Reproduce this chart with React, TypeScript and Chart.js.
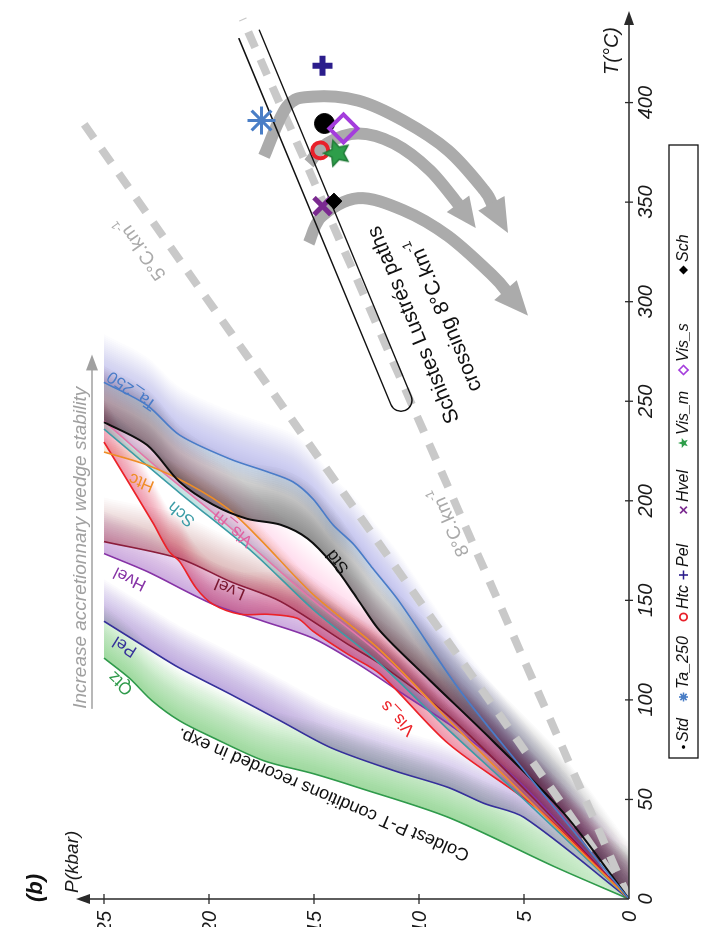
import React, { useEffect, useRef } from 'react';
import { Chart, registerables } from 'chart.js';

Chart.register(...registerables);

// ---------------- data ----------------
const tTicks = [0, 50, 100, 150, 200, 250, 300, 350, 400];
const pTicks = [0, 5, 10, 15, 20, 25];

// model P-T paths: P (kbar), T (°C)
const qtzP = [0, 3.5, 8.6, 12.9, 15.05, 17.4, 19.8, 21.4, 22.7, 23.8, 25];
const qtzT = [0, 16, 41, 56, 63, 69.5, 81, 89.5, 99.5, 111, 121];
const pelP = [0, 5, 6.9, 8.6, 11.2, 14.2, 16.6, 19, 21.4, 22.95, 25];
const pelT = [0, 41, 48, 56, 64.5, 76, 89.5, 103, 116, 126, 139.5];
const hvelP = [0, 4.4, 6.5, 8.6, 10.76, 12.9, 15.05, 17.4, 19.8, 22.95, 25];
const hvelT = [0, 50, 71, 88, 103, 118, 131, 139.5, 148, 164.5, 173.5];
const lvelP = [0, 4.5, 8.6, 11.85, 13.4, 16.6, 19, 21.4, 25];
const lvelT = [0, 50, 92, 118, 128, 149.5, 159.5, 171, 179.5];
const visSP = [0, 4.2, 8.6, 11.85, 13.4, 15.05, 15.8, 17.2, 18.5, 19.8, 20.6, 21.4, 21.9, 22.7, 25];
const visST = [0, 44, 78, 113, 123, 134.5, 141, 143, 143, 148, 156, 169.5, 174.5, 189.5, 229.5];
const visMP = [0, 5, 8.6, 11.85, 15.05, 17.2, 19.7, 22.5, 25];
const visMT = [0, 52, 90, 123, 150, 170, 193, 217, 240];
const schP = [0, 5, 8.6, 11.85, 15, 17.9, 21.4, 25];
const schT = [0, 50, 85, 118, 145, 174, 204, 236];
const htcP = [0, 5, 8.6, 11.85, 15.05, 17.6, 19.1, 20.9, 22.95, 25];
const htcT = [0, 52, 90, 125, 153, 181, 196, 208, 218, 224.5];
const stdP = [0, 3.1, 6.5, 9.5, 11.85, 12.95, 14.1, 15.3, 16.6, 18.2, 19.8, 21.4, 22.95, 25];
const stdT = [0, 43, 79.5, 110, 134.5, 151, 168, 181, 188, 191, 198, 209.5, 228, 239.5];
const ta250P = [0, 4.8, 8, 10.95, 12.2, 13.1, 14.1, 15.05, 16, 17.2, 19, 21.4, 22.95, 25];
const ta250T = [0, 62, 104, 149.5, 166, 178, 188, 201, 209.5, 214.5, 221, 233, 248, 259.5];

// geotherms
const geo5T = [0, 390];
const geo5P = [0, 26];
const geo8T = [0, 442];
const geo8P = [0, 18.4];

// Schistes Lustrés peak conditions
const ptNames = ['Std', 'Htc', 'Ta_250', 'Pel', 'Vis_s', 'Vis_m', 'Hvel', 'Sch'];
const ptT = [389.5, 376, 391, 418.5, 387, 374.5, 348, 350.5];
const ptP = [14.5, 14.7, 17.5, 14.6, 13.6, 13.9, 14.6, 14.05];

// exhumation arrows (T, P)
const arrowAT = [373, 398, 403, 401, 391, 376, 356, 334.5];
const arrowAP = [17.38, 16.29, 15.05, 12.9, 10.76, 8.62, 6.9, 5.76];
const arrowBT = [369.5, 379.5, 384.5, 379.5, 366, 350, 337];
const arrowBP = [15.24, 14.38, 12.9, 11.19, 9.48, 8.2, 7.3];
const arrowCT = [329.5, 343, 352, 346, 333, 313, 293];
const arrowCP = [15.24, 14.62, 12.9, 10.76, 8.62, 6.48, 4.81];

// Schistes Lustrés band (centre line ends, T / P)
const bandEndsT = [250.5, 434.5];
const bandEndsP = [10.86, 18.1];

const legendNames = ['Std', 'Ta_250', 'Htc', 'Pel', 'Hvel', 'Vis_m', 'Vis_s', 'Sch'];

// ---------------- styles ----------------
const FONT = '"Liberation Sans", Arial, Helvetica, sans-serif';

const curveDefs: any[] = [
  { key: 'Ta_250', T: ta250T, P: ta250P, color: '#4a7cc8', rgb: '80,125,210', w: 48, a: 0.38, wn: 16, an: 0.28 },
  { key: 'Std', T: stdT, P: stdP, color: '#0e0e0e', rgb: '40,40,40', w: 56, a: 0.5 },
  { key: 'Htc', T: htcT, P: htcP, color: '#ef8d25', rgb: '240,150,60', w: 14, a: 0.22 },
  { key: 'Sch', T: schT, P: schP, color: '#3c9ca6', rgb: '70,160,170', w: 24, a: 0.32 },
  { key: 'Vis_m', T: visMT, P: visMP, color: '#e576aa', rgb: '232,120,170', w: 56, a: 0.28 },
  { key: 'Vis_s', T: visST, P: visSP, color: '#ec2228', rgb: '236,45,55', w: 42, a: 0.45 },
  { key: 'Lvel', T: lvelT, P: lvelP, color: '#8b1d3b', rgb: '150,50,75', w: 44, a: 0.35 },
  { key: 'Hvel', T: hvelT, P: hvelP, color: '#8633a6', rgb: '150,80,190', w: 42, a: 0.45 },
  { key: 'Pel', T: pelT, P: pelP, color: '#35309a', rgb: '95,85,195', w: 42, a: 0.45 },
  { key: 'Qtz', T: qtzT, P: qtzP, color: '#2f9a4b', rgb: '60,170,90', w: 52, a: 0.5 },
];

const labelDefs: any[] = [
  { key: 'Qtz', T: 108.5, P: 24.2, a: -47, color: '#2f9a4b' },
  { key: 'Pel', T: 127, P: 24.0, a: -58, color: '#35309a' },
  { key: 'Hvel', T: 161, P: 23.76, a: -64, color: '#8633a6' },
  { key: 'Lvel', T: 156, P: 19.0, a: -67, color: '#7a1830' },
  { key: 'Vis_s', T: 91, P: 11.0, a: -44, color: '#ec2228' },
  { key: 'Vis_m', T: 186, P: 18.86, a: -51, color: '#e060a0' },
  { key: 'Sch', T: 193.5, P: 21.3, a: -50, color: '#3c9ca6' },
  { key: 'Htc', T: 209.5, P: 23.2, a: -68, color: '#ef8d25' },
  { key: 'Std', T: 169.5, P: 13.86, a: -39, color: '#111' },
  { key: 'Ta_250', T: 255.5, P: 23.67, a: -55, color: '#4a7cc8' },
];

const markerStyle: any = {
  Std: { style: 'circle', r: 10, bw: 1, bc: '#000', bg: '#000', sym: 'dot', col: '#000' },
  Htc: { style: 'circle', r: 8, bw: 4, bc: '#e8202a', bg: 'rgba(0,0,0,0)', sym: 'ring', col: '#e8202a' },
  Ta_250: { style: 'star', r: 14, bw: 3, bc: '#4a7ec6', bg: '#4a7ec6', sym: 'ast', col: '#4a7ec6' },
  Pel: { style: 'cross', r: 10, bw: 6, bc: '#2b1d8c', bg: '#2b1d8c', sym: 'plus', col: '#2b1d8c' },
  Vis_s: { style: 'rectRot', r: 14, bw: 4, bc: '#a43ddc', bg: 'rgba(0,0,0,0)', sym: 'diamondO', col: '#a43ddc' },
  Vis_m: { style: 'star5', r: 13, bw: 1, bc: '#2e9e4a', bg: '#2e9e4a', sym: 'star5', col: '#2e9e4a' },
  Hvel: { style: 'crossRot', r: 12, bw: 5, bc: '#7b2a90', bg: '#7b2a90', sym: 'x', col: '#7b2a90' },
  Sch: { style: 'rectRot', r: 8, bw: 1, bc: '#000', bg: '#000', sym: 'diamondF', col: '#000' },
};

// ---------------- helpers ----------------
const zip = (T: number[], P: number[]) => T.map((t, i) => ({ x: t, y: P[i] }));

function makeStar(size: number, fill: string, stroke: string) {
  const c = document.createElement('canvas');
  c.width = size; c.height = size;
  const g = c.getContext('2d')!;
  g.beginPath();
  for (let i = 0; i < 10; i++) {
    const r = i % 2 === 0 ? size / 2 - 1.5 : size / 4.6;
    const a = -Math.PI / 2 + (i * Math.PI) / 5;
    const x = size / 2 + r * Math.cos(a), y = size / 2 + r * Math.sin(a);
    if (i === 0) g.moveTo(x, y); else g.lineTo(x, y);
  }
  g.closePath();
  g.fillStyle = fill; g.fill();
  g.strokeStyle = stroke; g.lineWidth = 1.5; g.stroke();
  return c;
}

function toPx(chart: any, T: number, P: number) {
  return { x: chart.scales.x.getPixelForValue(T), y: chart.scales.y.getPixelForValue(P) };
}

function smoothPath(ctx: CanvasRenderingContext2D, pts: any[]) {
  ctx.moveTo(pts[0].x, pts[0].y);
  for (let i = 0; i < pts.length - 1; i++) {
    const p0 = pts[i - 1] || pts[i], p1 = pts[i], p2 = pts[i + 1], p3 = pts[i + 2] || p2;
    ctx.bezierCurveTo(
      p1.x + (p2.x - p0.x) / 6, p1.y + (p2.y - p0.y) / 6,
      p2.x - (p3.x - p1.x) / 6, p2.y - (p3.y - p1.y) / 6,
      p2.x, p2.y);
  }
}

function sampleLine(points: any[]) {
  const out: any[] = [];
  for (let i = 0; i < points.length - 1; i++) {
    const p = points[i], q = points[i + 1];
    const c1x = p.cp2x ?? p.x, c1y = p.cp2y ?? p.y, c2x = q.cp1x ?? q.x, c2y = q.cp1y ?? q.y;
    for (let s = 0; s < 14; s++) {
      const t = s / 14, m = 1 - t;
      out.push({
        x: m * m * m * p.x + 3 * m * m * t * c1x + 3 * m * t * t * c2x + t * t * t * q.x,
        y: m * m * m * p.y + 3 * m * m * t * c1y + 3 * m * t * t * c2y + t * t * t * q.y,
      });
    }
  }
  const last = points[points.length - 1];
  out.push({ x: last.x, y: last.y });
  return out;
}

function fillBand(ctx: CanvasRenderingContext2D, S: any[], width: number, total: number, rgb: string, dir: number) {
  const n = Math.max(1, Math.round(width / 2));
  const alpha = 1 - Math.pow(1 - total, 1 / n);
  ctx.fillStyle = `rgba(${rgb},${alpha})`;
  for (let k = 1; k <= n; k++) {
    const sh = dir * k * 2;
    ctx.beginPath();
    ctx.moveTo(S[0].x, S[0].y);
    for (let i = 1; i < S.length; i++) ctx.lineTo(S[i].x, S[i].y);
    for (let i = S.length - 1; i >= 0; i--) ctx.lineTo(S[i].x + sh, S[i].y);
    ctx.closePath();
    ctx.fill();
  }
}

function drawArrow(ctx: CanvasRenderingContext2D, pts: any[], w: number, headLen: number, headW: number, color: string) {
  const n = pts.length;
  const tip = pts[n - 1], prev = pts[n - 2];
  const dx = tip.x - prev.x, dy = tip.y - prev.y, L = Math.hypot(dx, dy);
  const ux = dx / L, uy = dy / L;
  const base = { x: tip.x - ux * headLen, y: tip.y - uy * headLen };
  const shaft = pts.slice(0, n - 1).filter((p) => Math.hypot(p.x - tip.x, p.y - tip.y) > headLen + 6);
  shaft.push({ x: base.x + ux * 2, y: base.y + uy * 2 });
  ctx.save();
  ctx.strokeStyle = color; ctx.lineWidth = w; ctx.lineCap = 'butt'; ctx.lineJoin = 'round';
  ctx.beginPath(); smoothPath(ctx, shaft); ctx.stroke();
  ctx.fillStyle = color;
  ctx.beginPath();
  ctx.moveTo(tip.x, tip.y);
  ctx.lineTo(base.x - uy * headW / 2, base.y + ux * headW / 2);
  ctx.lineTo(base.x + uy * headW / 2, base.y - ux * headW / 2);
  ctx.closePath(); ctx.fill();
  ctx.restore();
}

function drawParts(ctx: CanvasRenderingContext2D, parts: any[], x: number, y: number, angle: number,
  size: number, color: string, style = '', align = 'center') {
  ctx.save();
  ctx.translate(x, y);
  ctx.rotate((angle * Math.PI) / 180);
  ctx.fillStyle = color;
  ctx.textBaseline = 'middle';
  ctx.textAlign = 'left';
  const fontOf = (sup: boolean) => `${style} ${sup ? Math.round(size * 0.62) : size}px ${FONT}`;
  let total = 0;
  for (const p of parts) { ctx.font = fontOf(!!p.sup); total += ctx.measureText(p.t).width; }
  let cx = align === 'center' ? -total / 2 : align === 'right' ? -total : 0;
  for (const p of parts) {
    ctx.font = fontOf(!!p.sup);
    ctx.fillText(p.t, cx, p.sup ? -size * 0.38 : 0);
    cx += ctx.measureText(p.t).width;
  }
  ctx.restore();
}

function drawSym(ctx: CanvasRenderingContext2D, sym: string, x: number, y: number, r: number, color: string) {
  ctx.save();
  ctx.strokeStyle = color; ctx.fillStyle = color; ctx.lineWidth = 1.6;
  ctx.beginPath();
  if (sym === 'dot') { ctx.arc(x, y, 1.8, 0, Math.PI * 2); ctx.fill(); }
  else if (sym === 'ring') { ctx.arc(x, y, r * 0.8, 0, Math.PI * 2); ctx.lineWidth = 1.8; ctx.stroke(); }
  else if (sym === 'ast') {
    for (let k = 0; k < 4; k++) {
      const a = (k * Math.PI) / 4;
      ctx.moveTo(x - r * Math.cos(a), y - r * Math.sin(a));
      ctx.lineTo(x + r * Math.cos(a), y + r * Math.sin(a));
    }
    ctx.stroke();
  } else if (sym === 'plus') {
    ctx.moveTo(x - r, y); ctx.lineTo(x + r, y); ctx.moveTo(x, y - r); ctx.lineTo(x, y + r); ctx.stroke();
  } else if (sym === 'x') {
    const s = r * 0.75;
    ctx.moveTo(x - s, y - s); ctx.lineTo(x + s, y + s); ctx.moveTo(x - s, y + s); ctx.lineTo(x + s, y - s); ctx.stroke();
  } else if (sym === 'star5') {
    for (let i = 0; i < 10; i++) {
      const rr = i % 2 === 0 ? r * 1.2 : r * 0.5;
      const a = -Math.PI / 2 + (i * Math.PI) / 5;
      if (i === 0) ctx.moveTo(x + rr * Math.cos(a), y + rr * Math.sin(a));
      else ctx.lineTo(x + rr * Math.cos(a), y + rr * Math.sin(a));
    }
    ctx.closePath(); ctx.fill();
  } else if (sym === 'diamondO' || sym === 'diamondF') {
    ctx.moveTo(x, y - r); ctx.lineTo(x + r, y); ctx.lineTo(x, y + r); ctx.lineTo(x - r, y); ctx.closePath();
    if (sym === 'diamondF') ctx.fill(); else ctx.stroke();
  }
  ctx.restore();
}

// ---------------- plugins ----------------
const bandPlugin = {
  id: 'pathBands',
  beforeDatasetsDraw(chart: any) {
    const ctx = chart.ctx as CanvasRenderingContext2D;
    const area = chart.chartArea;
    const o = toPx(chart, 0, 0);
    const off = document.createElement('canvas');
    off.width = chart.canvas.width; off.height = chart.canvas.height;
    const octx = off.getContext('2d')!;
    ctx.save();
    ctx.beginPath();
    ctx.rect(area.left, area.top, area.right - area.left, area.bottom - area.top);
    ctx.clip();
    ctx.globalCompositeOperation = 'darken';
    const list = chart.data.datasets.map((ds: any, i: number) => ({ ds, i })).reverse();
    for (const { ds, i } of list) {
      const cfg = curveDefs.find((c) => c.key === ds.label);
      if (!cfg) continue;
      const meta = chart.getDatasetMeta(i);
      const line = meta.dataset;
      if (!line) continue;
      line.updateControlPoints(area, 'x');
      const S = sampleLine(meta.data);
      octx.globalCompositeOperation = 'source-over';
      octx.clearRect(0, 0, off.width, off.height);
      fillBand(octx, S, cfg.w, cfg.a, cfg.rgb, 1);
      if (cfg.wn) fillBand(octx, S, cfg.wn, cfg.an, cfg.rgb, -1);
      // soften the crowded fan near the origin
      const g = octx.createRadialGradient(o.x, o.y, 0, o.x, o.y, 150);
      g.addColorStop(0, 'rgba(0,0,0,0.55)');
      g.addColorStop(1, 'rgba(0,0,0,0)');
      octx.globalCompositeOperation = 'destination-out';
      octx.fillStyle = g;
      octx.fillRect(o.x - 160, o.y - 160, 320, 320);
      ctx.drawImage(off, 0, 0);
    }
    ctx.restore();
  },
};

const annotPlugin = {
  id: 'annots',
  afterDatasetDraw(chart: any, args: any) {
    const ds = chart.data.datasets[args.index];
    if (!ds || ds.label !== 'geo8') return;
    const ctx = chart.ctx as CanvasRenderingContext2D;
    const grey = '#ababab';
    drawArrow(ctx, zip(arrowAT, arrowAP).map((p) => toPx(chart, p.x, p.y)), 12, 34, 30, grey);
    drawArrow(ctx, zip(arrowBT, arrowBP).map((p) => toPx(chart, p.x, p.y)), 12, 30, 28, grey);
    drawArrow(ctx, zip(arrowCT, arrowCP).map((p) => toPx(chart, p.x, p.y)), 12, 34, 30, grey);
    const b = toPx(chart, bandEndsT[0], bandEndsP[0]);
    const a = toPx(chart, bandEndsT[1], bandEndsP[1]);
    const L = Math.hypot(a.x - b.x, a.y - b.y);
    const ux = (a.x - b.x) / L, uy = (a.y - b.y) / L;
    const nx = -uy, ny = ux, r = 11;
    const angN = Math.atan2(ny, nx);
    ctx.save();
    ctx.strokeStyle = '#111'; ctx.lineWidth = 1.4;
    ctx.beginPath();
    ctx.moveTo(a.x + nx * r, a.y + ny * r);
    ctx.lineTo(b.x + nx * r, b.y + ny * r);
    ctx.arc(b.x, b.y, r, angN, angN + Math.PI, false);
    ctx.lineTo(a.x - nx * r, a.y - ny * r);
    ctx.stroke();
    ctx.restore();
  },
  afterDatasetsDraw(chart: any) {
    const ctx = chart.ctx as CanvasRenderingContext2D;
    const area = chart.chartArea;
    const o = toPx(chart, 0, 0);
    const axisCol = '#2a2a2a';

    ctx.save();
    ctx.strokeStyle = axisCol; ctx.fillStyle = axisCol; ctx.lineWidth = 1.5;
    ctx.beginPath();
    ctx.moveTo(o.x, o.y); ctx.lineTo(area.right - 8, o.y);
    ctx.moveTo(o.x, o.y); ctx.lineTo(o.x, area.top + 8);
    ctx.stroke();
    ctx.beginPath();
    ctx.moveTo(area.right, o.y); ctx.lineTo(area.right - 14, o.y - 5); ctx.lineTo(area.right - 14, o.y + 5); ctx.closePath(); ctx.fill();
    ctx.beginPath();
    ctx.moveTo(o.x, area.top); ctx.lineTo(o.x - 5, area.top + 14); ctx.lineTo(o.x + 5, area.top + 14); ctx.closePath(); ctx.fill();
    ctx.lineWidth = 1.3;
    ctx.font = `italic 20px ${FONT}`;
    ctx.fillStyle = '#1a1a1a';
    for (const t of tTicks) {
      const x = chart.scales.x.getPixelForValue(t);
      if (t !== 0) { ctx.beginPath(); ctx.moveTo(x, o.y - 4); ctx.lineTo(x, o.y + 4); ctx.stroke(); }
      ctx.textAlign = 'center'; ctx.textBaseline = 'top';
      ctx.fillText(String(t), x, o.y + 7);
    }
    for (const p of pTicks) {
      const y = chart.scales.y.getPixelForValue(p);
      if (p !== 0) { ctx.beginPath(); ctx.moveTo(o.x - 5, y); ctx.lineTo(o.x + 5, y); ctx.stroke(); }
      ctx.textAlign = 'right'; ctx.textBaseline = 'middle';
      ctx.fillText(String(p), o.x - 12, y + 1);
    }
    ctx.restore();

    drawParts(ctx, [{ t: 'T(°C)' }], area.right - 16, o.y - 17, 0, 20, '#1a1a1a', 'italic', 'right');
    drawParts(ctx, [{ t: 'P(kbar)' }], o.x + 6, area.top - 3, 0, 19, '#1a1a1a', 'italic', 'left');
    drawParts(ctx, [{ t: '(b)' }], o.x + 11, area.top - 40, 0, 22, '#111', 'italic bold', 'center');

    const s0 = toPx(chart, 95.5, 25.57), s1 = toPx(chart, 273.5, 25.57);
    ctx.save();
    ctx.strokeStyle = '#a0a0a0'; ctx.fillStyle = '#a0a0a0'; ctx.lineWidth = 1.6;
    ctx.beginPath(); ctx.moveTo(s0.x, s0.y); ctx.lineTo(s1.x - 12, s1.y); ctx.stroke();
    ctx.beginPath(); ctx.moveTo(s1.x, s1.y); ctx.lineTo(s1.x - 16, s1.y - 6); ctx.lineTo(s1.x - 16, s1.y + 6); ctx.closePath(); ctx.fill();
    ctx.restore();
    const st = toPx(chart, 95.5, 26.1);
    drawParts(ctx, [{ t: 'Increase accretionnary wedge stability' }], st.x, st.y, 0, 19, '#a0a0a0', 'italic', 'left');

    const g5 = toPx(chart, 327, 23.24);
    drawParts(ctx, [{ t: '5°C.km' }, { t: '-1', sup: true }], g5.x, g5.y, -35.5, 19, '#aaaaaa');
    const g8 = toPx(chart, 189.5, 8.52);
    drawParts(ctx, [{ t: '8°C.km' }, { t: '-1', sup: true }], g8.x, g8.y, -23.6, 19, '#aaaaaa');

    const sl1 = toPx(chart, 288.5, 10.24);
    drawParts(ctx, [{ t: 'Schistes Lustrés paths' }], sl1.x, sl1.y, -22.4, 21, '#111');
    const sl2 = toPx(chart, 293.5, 8.76);
    drawParts(ctx, [{ t: 'crossing 8°C.km' }, { t: '-1', sup: true }], sl2.x, sl2.y, -22.4, 21, '#111');

    const cc = toPx(chart, 52.75, 14.55);
    drawParts(ctx, [{ t: 'Coldest P-T conditions recorded in exp.' }], cc.x, cc.y, -67, 18, '#111');

    for (const l of labelDefs) {
      const p = toPx(chart, l.T, l.P);
      drawParts(ctx, [{ t: l.key }], p.x, p.y, l.a, 17, l.color);
    }

    const lx0 = o.x + 141, lx1 = o.x + 754, ly0 = o.y + 40, ly1 = o.y + 69;
    ctx.save();
    ctx.strokeStyle = '#111'; ctx.lineWidth = 1.3;
    ctx.strokeRect(lx0, ly0, lx1 - lx0, ly1 - ly0);
    ctx.restore();
    const legX = [152, 202, 282, 324, 389, 456, 529, 629];
    const ly = (ly0 + ly1) / 2;
    legendNames.forEach((name, i) => {
      const m = markerStyle[name];
      const mx = o.x + legX[i];
      drawSym(ctx, m.sym, mx, ly, 4.5, m.col);
      drawParts(ctx, [{ t: name }], mx + (name === 'Std' ? 5 : 8), ly, 0, 16, '#111', 'italic', 'left');
    });
  },
};

// ---------------- component ----------------
export default function App() {
  const canvasRef = useRef<HTMLCanvasElement | null>(null);

  useEffect(() => {
    const prevMargin = document.body.style.margin;
    document.body.style.margin = '0';
    const canvas = canvasRef.current!;
    const starImg = makeStar(30, '#2e9e4a', '#1f7a36');

    const datasets: any[] = [];
    datasets.push({
      label: 'markers',
      data: zip(ptT, ptP),
      showLine: false,
      pointStyle: ptNames.map((n) => (markerStyle[n].style === 'star5' ? starImg : markerStyle[n].style)),
      pointRadius: ptNames.map((n) => markerStyle[n].r),
      pointBorderWidth: ptNames.map((n) => markerStyle[n].bw),
      pointBorderColor: ptNames.map((n) => markerStyle[n].bc),
      pointBackgroundColor: ptNames.map((n) => markerStyle[n].bg),
      clip: false,
    });
    for (const c of curveDefs) {
      datasets.push({
        label: c.key,
        data: zip(c.T, c.P),
        borderColor: c.color,
        borderWidth: c.key === 'Std' ? 2 : 1.6,
        pointRadius: 0,
        tension: 0.3,
        fill: false,
      });
    }
    datasets.push({
      label: 'geo8', data: zip(geo8T, geo8P), borderColor: '#c9c9c9', borderWidth: 8,
      borderDash: [17, 13], borderCapStyle: 'butt', pointRadius: 0, tension: 0, fill: false,
    });
    datasets.push({
      label: 'geo5', data: zip(geo5T, geo5P), borderColor: '#c9c9c9', borderWidth: 8,
      borderDash: [17, 13], borderCapStyle: 'butt', pointRadius: 0, tension: 0, fill: false,
    });

    const chart = new Chart(canvas, {
      type: 'line',
      data: { datasets },
      options: {
        responsive: false,
        devicePixelRatio: 1,
        animation: false,
        events: [],
        layout: { padding: { left: 28, right: 7, top: 76, bottom: 73 } },
        plugins: { legend: { display: false }, tooltip: { enabled: false } },
        scales: {
          x: { type: 'linear', min: 0, max: 446, display: false },
          y: { type: 'linear', min: 0, max: 26.333, display: false },
        },
      } as any,
      plugins: [bandPlugin, annotPlugin],
    });
    return () => {
      chart.destroy();
      document.body.style.margin = prevMargin;
    };
  }, []);

  return (
    <div style={{ position: 'fixed', left: 0, top: 0, width: 702, height: 927, overflow: 'hidden', background: '#fff' }}>
      <div style={{ position: 'absolute', left: 0, top: 0, width: 927, height: 702, transformOrigin: '0 0', transform: 'translate(0px, 927px) rotate(-90deg)' }}>
        <canvas ref={canvasRef} width={927} height={702} style={{ width: 927, height: 702, display: 'block' }} />
      </div>
    </div>
  );
}
